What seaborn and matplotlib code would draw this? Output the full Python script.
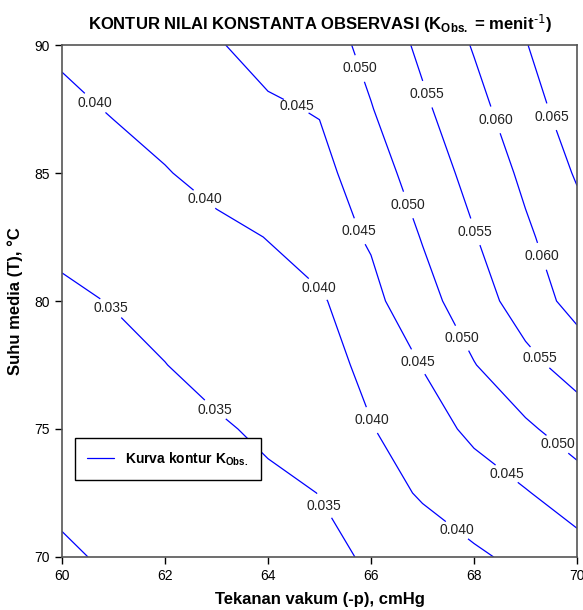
import numpy as np
import seaborn as sns
import matplotlib
matplotlib.use("Agg")
import matplotlib.pyplot as plt
from matplotlib.lines import Line2D

# grid of the response surface
tekanan = [60, 61, 62, 63, 64, 65, 66, 67, 68, 69, 70]
suhu = [70, 72.5, 75, 77.5, 80, 82.5, 85, 87.5, 90]
k_obs = [
    [0.02950, 0.03049, 0.03145, 0.03241, 0.03337, 0.03434, 0.03530, 0.03744, 0.03931, 0.04112, 0.04290],
    [0.03075, 0.03161, 0.03247, 0.03333, 0.03419, 0.03505, 0.03791, 0.04050, 0.04258, 0.04467, 0.04758],
    [0.03196, 0.03285, 0.03373, 0.03450, 0.03570, 0.03791, 0.03976, 0.04282, 0.04604, 0.04921, 0.05231],
    [0.03317, 0.03405, 0.03493, 0.03629, 0.03700, 0.03800, 0.04134, 0.04519, 0.04981, 0.05366, 0.05700],
    [0.03438, 0.03515, 0.03631, 0.03747, 0.03863, 0.03930, 0.04373, 0.04824, 0.05275, 0.05727, 0.06180],
    [0.03579, 0.03687, 0.03794, 0.03902, 0.04010, 0.04285, 0.04550, 0.05027, 0.05473, 0.05923, 0.06316],
    [0.03742, 0.03859, 0.03977, 0.04127, 0.04285, 0.04350, 0.04778, 0.05219, 0.05661, 0.06098, 0.06545],
    [0.03906, 0.04028, 0.04157, 0.04285, 0.04440, 0.04530, 0.04978, 0.05416, 0.05846, 0.06294, 0.06752],
    [0.04069, 0.04201, 0.04334, 0.04466, 0.04656, 0.04750, 0.05150, 0.05603, 0.06035, 0.06478, 0.06920],
]
plain_levels = [0.030]
label_levels = [0.035, 0.040, 0.045, 0.050, 0.055, 0.060, 0.065]

# where the inline labels sit
label_pos = [
    (60.64, 87.73), (62.80, 84.06), (65.05, 80.63), (66.02, 75.35), (67.67, 71.05),
    (60.97, 79.77), (62.93, 75.66), (65.05, 71.95),
    (64.58, 87.73), (65.79, 82.73), (66.91, 77.62), (68.66, 73.32),
    (65.75, 89.06), (66.72, 83.75), (67.77, 78.55), (69.61, 74.38),
    (67.11, 88.09), (68.02, 82.70), (69.18, 77.62),
    (68.41, 87.07), (69.28, 81.72),
    (69.44, 87.15),
]

sns.set_theme(style="ticks")
plt.rcParams['font.family'] = ['Liberation Sans', 'DejaVu Sans']
plt.rcParams['mathtext.default'] = 'regular'
plt.rcParams['text.color'] = 'black'
plt.rcParams['axes.labelcolor'] = 'black'

fig = plt.figure(figsize=(5.83, 6.10), dpi=100)
ax = fig.add_axes([0.1063, 0.0869, 0.8834, 0.8393])

X, Y = np.meshgrid(tekanan, suhu)
Z = np.array(k_obs)
ax.contour(X, Y, Z, levels=plain_levels, colors="#0000ff", linewidths=0.9)
cs = ax.contour(X, Y, Z, levels=label_levels, colors="#0000ff", linewidths=0.9)
# small font while cutting the gaps, then upright labels at full size
labels = ax.clabel(cs, inline=True, fmt="%.3f", fontsize=7,
                   colors="#222222", manual=label_pos, inline_spacing=2)
for t in labels:
    t.set_rotation(0)
    t.set_fontsize(10)

ax.set_xlim(60, 70)
ax.set_ylim(70, 90)
ax.set_xticks([60, 62, 64, 66, 68, 70])
ax.set_yticks([70, 75, 80, 85, 90])
ax.tick_params(direction="out", length=5, width=1, labelsize=10, colors="#000000",
               top=False, right=False, pad=4)
for sp in ax.spines.values():
    sp.set_color("#555555")
    sp.set_linewidth(1.2)
    sp.set_visible(True)

ax.set_xlabel("Tekanan vakum (-p), cmHg", fontsize=12, fontweight="bold", labelpad=6)
ax.set_ylabel("Suhu media (T), °C", fontsize=12, fontweight="bold", labelpad=8)
ax.set_title(r"KONTUR NILAI KONSTANTA OBSERVASI (K$_{Obs.}$ = menit$^{\text{-1}}$)",
             fontsize=12, fontweight="bold", pad=11)

handle = Line2D([], [], color="#0000ff", linewidth=0.9)
leg = ax.legend([handle], [r"Kurva kontur K$_{Obs.}$"], loc="lower left",
                bbox_to_anchor=(0.025, 0.150), borderaxespad=0, fancybox=False,
                framealpha=1, edgecolor="#000000", handlelength=1.9,
                prop={"weight": "bold", "size": 10}, borderpad=0.9)
leg.get_frame().set_linewidth(1.0)

fig.savefig("out.png", dpi=100)
